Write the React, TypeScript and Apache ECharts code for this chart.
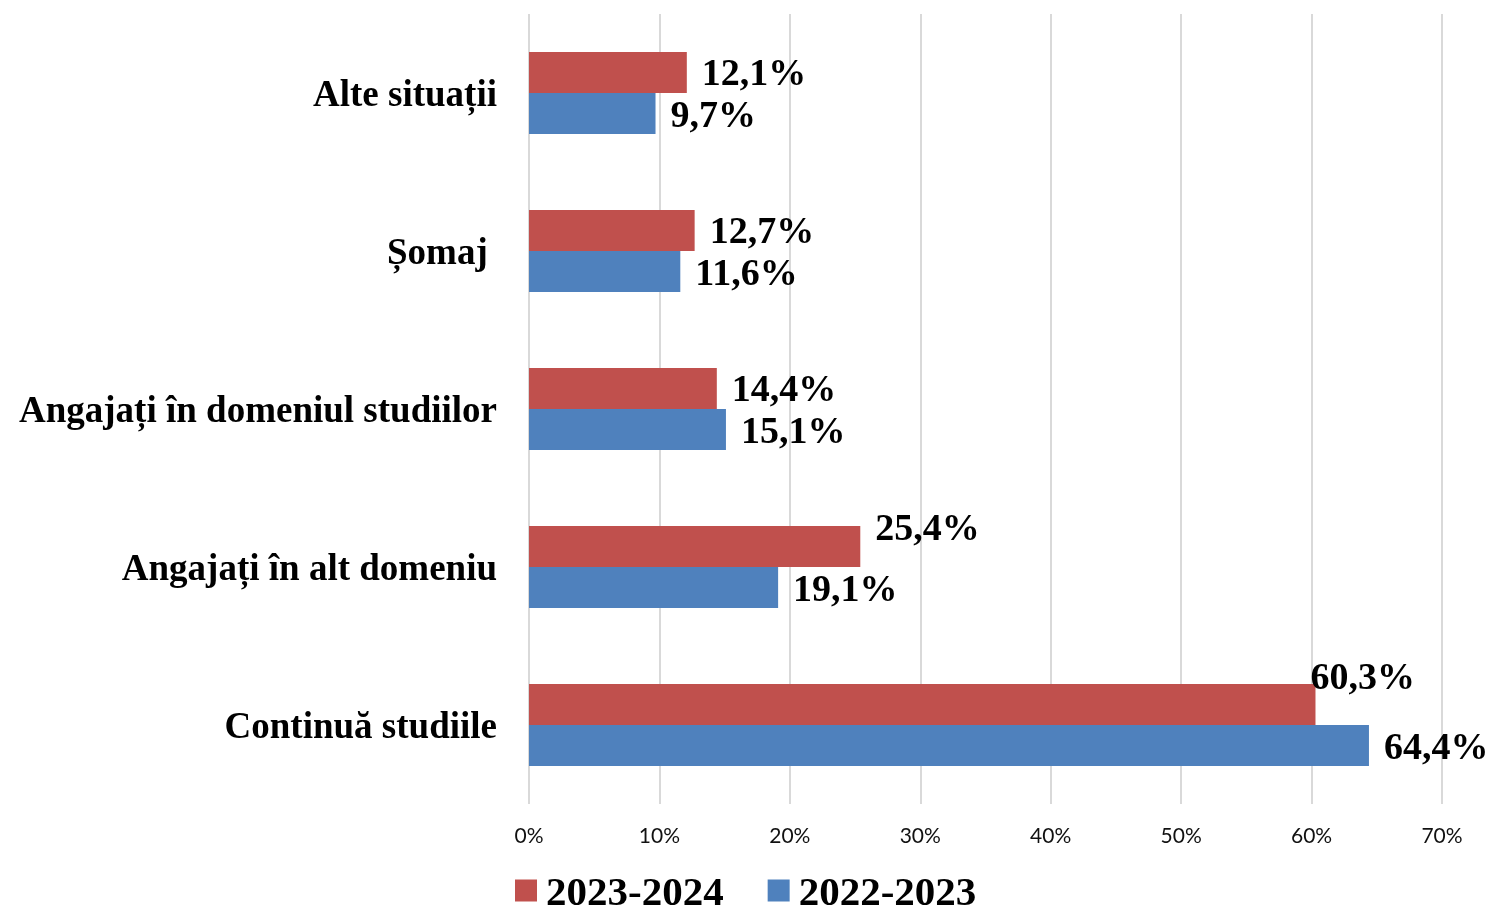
import React, { useEffect, useRef } from "react";
import * as echarts from "echarts";

const categories = [
  "Continuă studiile",
  "Angajați în alt domeniu",
  "Angajați în domeniul studiilor",
  "Șomaj ",
  "Alte situații",
];
const series2324 = [60.3, 25.4, 14.4, 12.7, 12.1];
const series2223 = [64.4, 19.1, 15.1, 11.6, 9.7];
const seriesNames = ["2023-2024", "2022-2023"];
const xTicks = { min: 0, max: 70, interval: 10 };

const SERIF = "'Liberation Serif', 'Times New Roman', serif";

export default function App() {
  const ref = useRef<HTMLDivElement>(null);
  useEffect(() => {
    if (!ref.current) return;
    const chart = echarts.init(ref.current, null, { renderer: "svg" });
    const labelBase = {
      show: true,
      position: "right" as const,
      distance: 15,
      fontFamily: SERIF,
      fontWeight: "bold" as const,
      fontSize: 38,
      color: "#000",
      formatter: (p: any) => String(p.value).replace(".", ",") + "%",
    };
    const redData = series2324.map((v, i) => {
      if (i === 0) return { value: v, label: { offset: [-20, -28] } };
      if (i === 1) return { value: v, label: { offset: [0, -19] } };
      return v;
    });
    chart.setOption({
      animation: false,
      grid: { left: 529, right: 46, top: 14, bottom: 111, containLabel: false },
      legend: {
        data: seriesNames,
        top: 870,
        left: 515,
        padding: 0,
        itemWidth: 22,
        itemHeight: 22,
        itemGap: 44,
        icon: "rect",
        textStyle: {
          fontFamily: SERIF,
          fontWeight: "bold",
          fontSize: 41,
          lineHeight: 36,
          color: "#000",
          padding: [0, 0, 0, 4],
        },
      },
      xAxis: {
        type: "value",
        min: xTicks.min,
        max: xTicks.max,
        interval: xTicks.interval,
        axisLine: { show: false },
        axisTick: { show: false },
        splitLine: { show: true, lineStyle: { color: "#D9D9D9", width: 2 } },
        axisLabel: {
          formatter: "{value}%",
          fontFamily: "Lato, 'Liberation Sans', sans-serif",
          fontSize: 21,
          color: "#111",
          margin: 20,
        },
      },
      yAxis: {
        type: "category",
        data: categories,
        axisLine: { show: false },
        axisTick: { show: false },
        splitLine: { show: false },
        axisLabel: {
          fontFamily: SERIF,
          fontWeight: "bold",
          fontSize: 37,
          color: "#000",
          margin: 32,
        },
      },
      series: [
        {
          name: seriesNames[0],
          type: "bar",
          data: redData,
          barGap: "0%",
          barCategoryGap: "48%",
          itemStyle: { color: "#C0504D" },
          label: labelBase,
        },
        {
          name: seriesNames[1],
          type: "bar",
          data: series2223,
          barGap: "0%",
          barCategoryGap: "48%",
          itemStyle: { color: "#4F81BD" },
          label: labelBase,
        },
      ],
    });
    return () => chart.dispose();
  }, []);
  return (
    <div
      ref={ref}
      style={{ position: "fixed", left: 0, top: 0, width: 1488, height: 915 }}
    />
  );
}
